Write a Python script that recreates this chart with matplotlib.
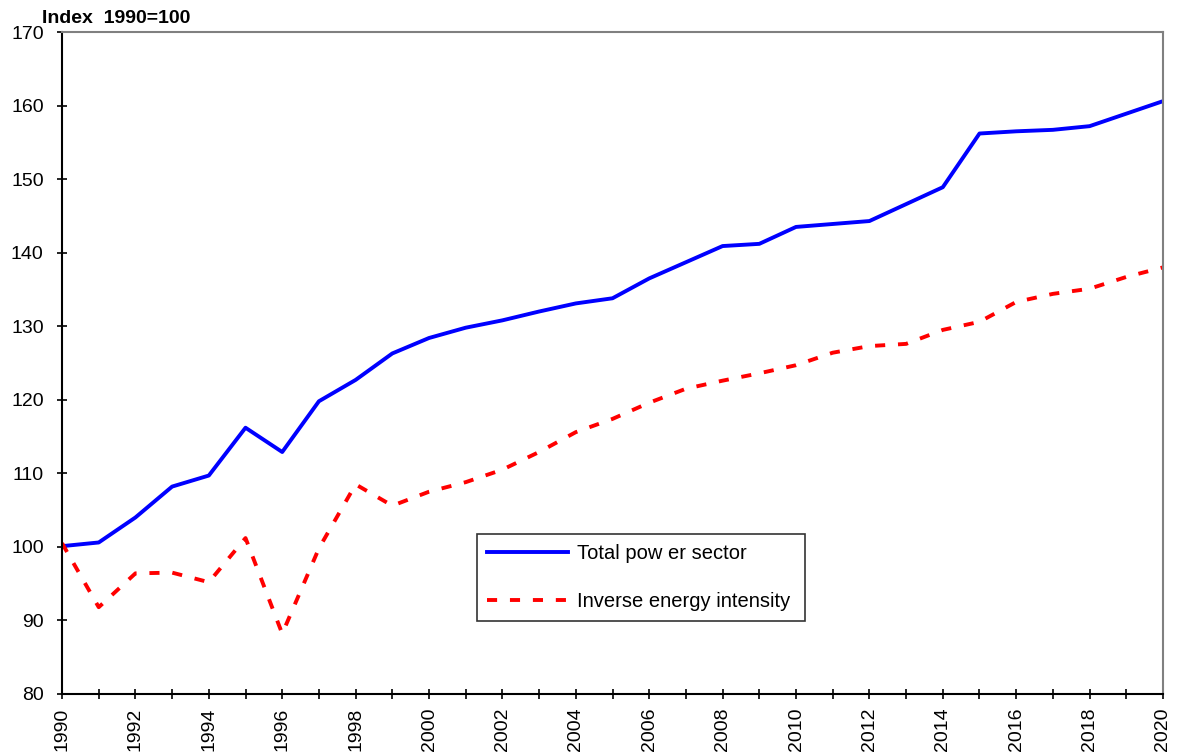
import matplotlib.pyplot as plt

plt.rcParams['font.family'] = ['Liberation Sans', 'DejaVu Sans']

years = list(range(1990, 2021))

total_power = [100.1, 100.6, 104.0, 108.2, 109.7, 116.2, 112.9, 119.8, 122.7, 126.3,
               128.4, 129.8, 130.8, 132.0, 133.1, 133.8, 136.5, 138.7, 140.9, 141.2,
               143.5, 143.9, 144.3, 146.6, 148.9, 156.2, 156.5, 156.7, 157.2, 158.9,
               160.6]

inverse_intensity = [100.5, 91.8, 96.4, 96.5, 95.2, 101.2, 88.2, 99.8, 108.5, 105.6,
                     107.5, 108.8, 110.5, 112.9, 115.6, 117.4, 119.6, 121.5, 122.6, 123.6,
                     124.7, 126.4, 127.3, 127.6, 129.5, 130.6, 133.3, 134.4, 135.1, 136.7,
                     138.0]

fig = plt.figure(figsize=(11.77, 7.55), dpi=100)
ax = fig.add_axes([0.0527, 0.0808, 0.9354, 0.8768])

ax.plot(years, total_power, color='#0000ff', lw=2.8, label='Total pow er sector')
ax.plot(years, inverse_intensity, color='#ff0000', lw=2.8, linestyle=(0, (2.6, 3.3)),
        label='Inverse energy intensity')

ax.set_xlim(1990, 2020)
ax.set_ylim(80, 170)
ax.set_yticks(range(80, 171, 10))
ax.set_xticks(years)
ax.set_xticklabels([str(y) if y % 2 == 0 else '' for y in years], rotation=90)
ax.tick_params(direction='inout', length=7.5, width=1.2, labelsize=14, color='black')
ax.tick_params(axis='y', pad=9.5)
ax.tick_params(axis='x', pad=6)

for side in ['left', 'bottom']:
    ax.spines[side].set_color('black')
    ax.spines[side].set_linewidth(1.5)
for side in ['top', 'right']:
    ax.spines[side].set_color('#808080')
    ax.spines[side].set_linewidth(1.5)

ax.text(-0.018, 1.014, 'Index  1990=100', transform=ax.transAxes, fontsize=14,
        fontweight='bold', ha='left', va='baseline')

leg = ax.legend(loc='lower left', bbox_to_anchor=(0.377, 0.110, 0.298, 0.133),
                mode='expand', fontsize=14.5, handlelength=4.0, handletextpad=0.45,
                frameon=True, fancybox=False, edgecolor='black', borderaxespad=0,
                labelspacing=1.45, borderpad=0.5)
leg.get_frame().set_linewidth(1.2)

fig.savefig('out.png', dpi=100)
